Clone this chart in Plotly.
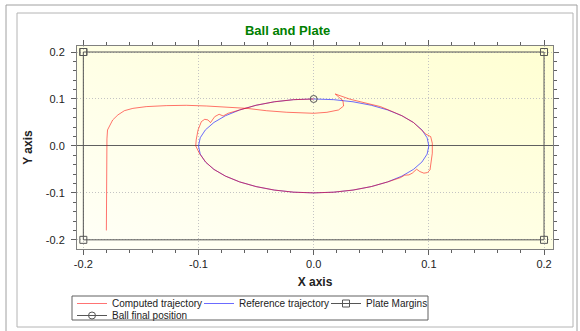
import base64
import plotly.graph_objects as go

# ---- data ----
computed_x = [-0.180, -0.180, -0.180, -0.1795, -0.179, -0.1768, -0.1745, -0.170, -0.1643, -0.157,
              -0.1454, -0.128, -0.1106, -0.093, -0.081, -0.058, -0.041, -0.0234, 0.0, 0.0115,
              0.0216, 0.026, 0.0254, 0.0187, 0.0318, 0.0464, 0.058, 0.068, 0.0766, 0.0866,
              0.094, 0.0975, 0.1016, 0.103, 0.103, 0.102, 0.101, 0.0987, 0.0957, 0.0922,
              0.0894, 0.0856, 0.0827, 0.079, 0.0754, 0.0643, 0.05, 0.0342, 0.0174, 0.0,
              -0.0174, -0.0342, -0.05, -0.0643, -0.0766, -0.0866, -0.0935, -0.099, -0.1024, -0.102,
              -0.1004, -0.0975, -0.0946, -0.0917, -0.0896, -0.0859, -0.0821, -0.0786, -0.0743, -0.0643,
              -0.05, -0.0342, -0.0174, 0.0]
computed_y = [-0.180, -0.100, 0.0, 0.015, 0.034, 0.0447, 0.0553, 0.066, 0.0751, 0.080,
              0.0837, 0.0858, 0.0865, 0.085, 0.0837, 0.080, 0.075, 0.0717, 0.0695, 0.0716,
              0.0766, 0.085, 0.0964, 0.1106, 0.0993, 0.0908, 0.0837, 0.0735, 0.0643, 0.05,
              0.0342, 0.025, 0.0198, 0.0057, -0.0156, -0.0368, -0.051, -0.0568, -0.058, -0.0546,
              -0.0496, -0.058, -0.0617, -0.0623, -0.0675, -0.0766, -0.0866, -0.094, -0.0985, -0.1,
              -0.0985, -0.094, -0.0866, -0.0766, -0.0643, -0.05, -0.035, -0.017, 0.0, 0.0128,
              0.034, 0.0518, 0.0567, 0.0553, 0.0496, 0.0624, 0.0674, 0.0638, 0.0695, 0.0766,
              0.0866, 0.094, 0.0985, 0.1]

reference_x = [0.1, 0.0985, 0.094, 0.0866, 0.0766, 0.0643, 0.05, 0.0342, 0.0174, 0.0,
               -0.0174, -0.0342, -0.05, -0.0643, -0.0766, -0.0866, -0.094, -0.0985, -0.1,
               -0.0985, -0.094, -0.0866, -0.0766, -0.0643, -0.05, -0.0342, -0.0174, 0.0,
               0.0174, 0.0342, 0.05, 0.0643, 0.0766, 0.0866, 0.094, 0.0985, 0.1]
reference_y = [0.0, 0.0174, 0.0342, 0.05, 0.0643, 0.0766, 0.0866, 0.094, 0.0985, 0.1,
               0.0985, 0.094, 0.0866, 0.0766, 0.0643, 0.05, 0.0342, 0.0174, 0.0,
               -0.0174, -0.0342, -0.05, -0.0643, -0.0766, -0.0866, -0.094, -0.0985, -0.1,
               -0.0985, -0.094, -0.0866, -0.0766, -0.0643, -0.05, -0.0342, -0.0174, 0.0]

plate_x = [-0.2, 0.2, 0.2, -0.2, -0.2]
plate_y = [0.2, 0.2, -0.2, -0.2, 0.2]

ball_x = [0.0]
ball_y = [0.1]

x_tickvals = [-0.2, -0.1, 0.0, 0.1, 0.2]
x_ticktext = ["-0.2", "-0.1", "0.0", "0.1", "0.2"]
y_tickvals = [-0.2, -0.1, 0.0, 0.1, 0.2]
y_ticktext = ["-0.2", "-0.1", "0.0", "0.1", "0.2"]

# ---- figure ----
FONT = "Liberation Sans, Arial, sans-serif"
GREY = "#555555"

fig = go.Figure()
fig.add_trace(go.Scatter(x=reference_x, y=reference_y, mode="lines", name="Reference trajectory",
                         line=dict(color="rgba(70,70,255,0.8)", width=1), legendrank=2))
fig.add_trace(go.Scatter(x=computed_x, y=computed_y, mode="lines", name="Computed trajectory",
                         line=dict(color="rgba(255,0,0,0.55)", width=1), legendrank=1))
fig.add_trace(go.Scatter(x=plate_x, y=plate_y, mode="lines+markers", name="Plate Margins",
                         line=dict(color=GREY, width=1),
                         marker=dict(symbol="square-open", size=7, color=GREY, line=dict(width=1)),
                         legendrank=3))
fig.add_trace(go.Scatter(x=ball_x, y=ball_y, mode="lines+markers", name="Ball final position",
                         line=dict(color=GREY, width=1),
                         marker=dict(symbol="circle-open", size=7, color=GREY, line=dict(width=1)),
                         legend="legend2", legendrank=4))

svg = ('<svg xmlns="http://www.w3.org/2000/svg" width="200" height="200" preserveAspectRatio="none">'
       '<defs><linearGradient id="g" x1="0" y1="1" x2="1" y2="0">'
       '<stop offset="0" stop-color="#FFFFF7"/><stop offset="1" stop-color="#FFFFD2"/>'
       '</linearGradient></defs><rect width="200" height="200" fill="url(#g)"/></svg>')
bg_uri = "data:image/svg+xml;base64," + base64.b64encode(svg.encode()).decode()

W, H = 580, 331
L, R, T, B = 77, 27, 46, 82
pw, ph = W - L - R, H - T - B


def px(xp):
    return (xp - L) / pw


def py(yp):
    return (H - B - yp) / ph


axis_common = dict(
    showline=True, linecolor="#808080", linewidth=1, mirror="ticks",
    ticks="outside", ticklen=5, tickcolor="#606060", tickwidth=1,
    showgrid=True, gridcolor="#C4C4C4", griddash="1px,2px", gridwidth=1,
    tickfont=dict(family=FONT, size=11, color="#222222"),
    minor=dict(ticks="outside", ticklen=3, tickcolor="#606060", dtick=0.02, showgrid=False),
)

legend_common = dict(orientation="h", xref="container", yref="container", xanchor="left", yanchor="top",
                     bgcolor="rgba(0,0,0,0)", borderwidth=0,
                     font=dict(family=FONT, size=10, color="#222222"),
                     entrywidth=82, tracegroupgap=0, itemwidth=30)

fig.update_layout(
    width=W, height=H,
    margin=dict(l=L, r=R, t=T, b=B, autoexpand=False),
    paper_bgcolor="white",
    plot_bgcolor="rgba(0,0,0,0)",
    font=dict(family=FONT, size=11, color="#222222"),
    title=dict(text="<b>Ball and Plate</b>", x=px(313), xanchor="center", y=1 - 30 / H, yanchor="middle",
               font=dict(family=FONT, size=13, color="#008000")),
    xaxis=dict(range=[-0.2055, 0.2078], tickvals=x_tickvals, ticktext=x_ticktext, zeroline=False,
               title=dict(text="<b>X axis</b>", font=dict(family=FONT, size=12, color="#222222"), standoff=9),
               **axis_common),
    yaxis=dict(range=[-0.2195, 0.2128], tickvals=y_tickvals, ticktext=y_ticktext,
               zeroline=True, zerolinecolor="#606060", zerolinewidth=1, ticklabelstandoff=4,
               title=dict(text="<b>Y axis</b>", font=dict(family=FONT, size=12, color="#222222"), standoff=10),
               **axis_common),
    legend=dict(x=72 / W, y=1 - 289 / H, **legend_common),
    legend2=dict(x=72 / W, y=1 - 301 / H, **legend_common),
    images=[dict(source=bg_uri, xref="paper", yref="paper", x=0, y=1, sizex=1, sizey=1,
                 sizing="stretch", xanchor="left", yanchor="top", layer="below")],
    shapes=[
        dict(type="rect", xref="paper", yref="paper", x0=px(6), x1=px(577), y0=py(334), y1=py(5),
             line=dict(color="#A0A0A0", width=1), fillcolor="rgba(0,0,0,0)", layer="below"),
        dict(type="rect", xref="paper", yref="paper", x0=px(17), x1=px(573), y0=py(327), y1=py(13),
             line=dict(color="#B4B4B4", width=1), fillcolor="rgba(0,0,0,0)", layer="below"),
        dict(type="rect", xref="paper", yref="paper", x0=px(72), x1=px(428), y0=py(320), y1=py(296),
             line=dict(color="#606060", width=1), fillcolor="white", layer="below"),
    ],
)

fig.write_html("out.html", config={"displayModeBar": False},
               post_script="document.body.style.margin='0px';document.body.style.overflow='hidden';")
